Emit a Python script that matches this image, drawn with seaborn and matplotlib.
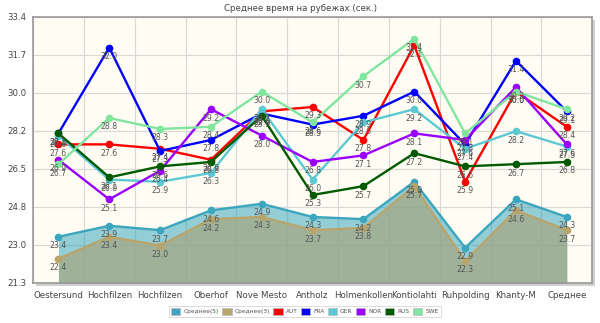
import numpy as np
import pandas as pd
import matplotlib
matplotlib.use("Agg")
import matplotlib.pyplot as plt
from matplotlib.patches import Rectangle, Patch
import seaborn as sns

categories = ['Oestersund', 'Hochfilzen', 'Hochfilzen', 'Oberhof', 'Nove Mesto',
              'Antholz', 'Holmenkollen', 'Kontiolahti', 'Ruhpolding', 'Khanty-M', 'Среднее']
avg5 = [23.4, 23.9, 23.7, 24.6, 24.9, 24.3, 24.2, 25.9, 22.9, 25.1, 24.3]
avg3 = [22.4, 23.4, 23.0, 24.2, 24.3, 23.7, 23.8, 25.7, 22.3, 24.6, 23.7]
AUT = [27.6, 27.6, 27.4, 26.9, 29.1, 29.3, 27.8, 32.1, 25.9, 30.0, 28.4]
FRA = [28.1, 32.0, 27.3, 27.8, 29.0, 28.5, 28.9, 30.0, 27.6, 31.4, 29.1]
GER = [28.0, 26.0, 25.9, 26.3, 29.2, 26.0, 28.6, 29.2, 27.4, 28.2, 27.5]
NOR = [26.9, 25.1, 26.4, 29.2, 28.0, 26.8, 27.1, 28.1, 27.8, 30.2, 27.6]
RUS = [28.1, 26.1, 26.6, 26.8, 28.9, 25.3, 25.7, 27.2, 26.6, 26.7, 26.8]
SWE = [26.7, 28.8, 28.3, 28.4, 30.0, 28.6, 30.7, 32.4, 28.1, 30.0, 29.2]
ytick_labels = ['21.3', '23.0', '24.8', '26.5', '28.2', '30.0', '31.7', '33.4']
title = 'Среднее время на рубежах (сек.)'

area_series = {'Среднее(5)': avg5, 'Среднее(3)': avg3}
line_series = {'AUT': AUT, 'FRA': FRA, 'GER': GER, 'NOR': NOR, 'RUS': RUS, 'SWE': SWE}
colors = {'Среднее(5)': '#3ba6bd', 'Среднее(3)': '#b9a56c', 'AUT': '#ff0000',
          'FRA': '#0000ff', 'GER': '#5cc8d4', 'NOR': '#9900ff', 'RUS': '#005a00',
          'SWE': '#80e69e'}

sns.set_style('white')
plt.rcParams['font.family'] = ['DejaVu Sans']

x = np.arange(len(categories))
rows = []
for name, vals in {**area_series, **line_series}.items():
    for xi, v in zip(x, vals):
        rows.append({'x': xi, 'value': v, 'series': name})
df = pd.DataFrame(rows)

fig = plt.figure(figsize=(6.0, 3.23), dpi=100)
fig.patch.set_facecolor('white')
ax = fig.add_axes([0.055, 0.124, 0.932, 0.824])
ax.set_facecolor('#fffdf3')

ymin, ymax = 21.3, 33.4
# shadow
pos = ax.get_position()
fig.patches.append(Rectangle((pos.x0 + 3 / 600, pos.y0 - 3 / 323), pos.width, pos.height,
                             transform=fig.transFigure, facecolor='#d0d0d0',
                             edgecolor='none', zorder=-5))

# areas
ax.fill_between(x, avg5, ymin, color='#3aa6bd', alpha=0.55, linewidth=0, zorder=1)
ax.fill_between(x, avg3, ymin, color='#a8a274', alpha=0.62, linewidth=0, zorder=1.1)

sns.lineplot(data=df, x='x', y='value', hue='series', palette=colors,
             hue_order=list(colors.keys()), marker='o', markersize=5.5,
             markeredgewidth=0, linewidth=1.7, sort=False, ax=ax, legend=False,
             zorder=3)

# data labels
for name, vals in {**area_series, **line_series}.items():
    for xi, v in zip(x, vals):
        ax.annotate(f'{v:.1f}', (xi, v), xytext=(0, -3.2), textcoords='offset points',
                    ha='center', va='top', fontsize=5.6, color='#555555', zorder=6)

ax.set_xlim(-0.5, len(categories) - 0.5)
ax.set_ylim(ymin, ymax)
yt = np.linspace(ymin, ymax, len(ytick_labels))
ax.set_yticks(yt)
ax.set_yticklabels(ytick_labels)
ax.set_xticks(x)
ax.set_xticklabels(categories)
ax.set_xticks(np.arange(-0.5, len(categories) + 0.5, 1), minor=True)
ax.grid(False)
ax.grid(True, which='minor', axis='x', color='#d9d9d9', linewidth=0.9, zorder=0)
ax.grid(True, which='major', axis='y', color='#d9d9d9', linewidth=0.9, zorder=0)
ax.set_axisbelow(True)
ax.tick_params(axis='x', which='major', length=0, labelsize=6.2, colors='#444444', pad=6)
ax.tick_params(axis='x', which='minor', length=3, color='#888888', direction='out')
ax.tick_params(axis='y', which='major', length=3, labelsize=6.2, colors='#444444',
               color='#888888', direction='out', pad=2)
ax.set_xlabel('')
ax.set_ylabel('')
for s in ax.spines.values():
    s.set_color('#999999')
    s.set_linewidth(1.2)
    s.set_visible(True)

fig.text(0.5, 0.975, title, ha='center', va='center', fontsize=6.2, color='#444444')

handles = [Patch(facecolor=colors[n], edgecolor='#bbbbbb', linewidth=0.5) for n in colors]
leg = fig.legend(handles, list(colors.keys()), loc='center', bbox_to_anchor=(0.508, 0.036),
                 ncol=8, fontsize=4.2, frameon=True, fancybox=False, handlelength=1.6,
                 handleheight=1.3, handletextpad=0.5, columnspacing=0.6,
                 borderpad=0.4, labelcolor='#555555')
leg.get_frame().set_edgecolor('#cccccc')
leg.get_frame().set_linewidth(0.6)

fig.savefig('out.png', dpi=100, facecolor='white')
